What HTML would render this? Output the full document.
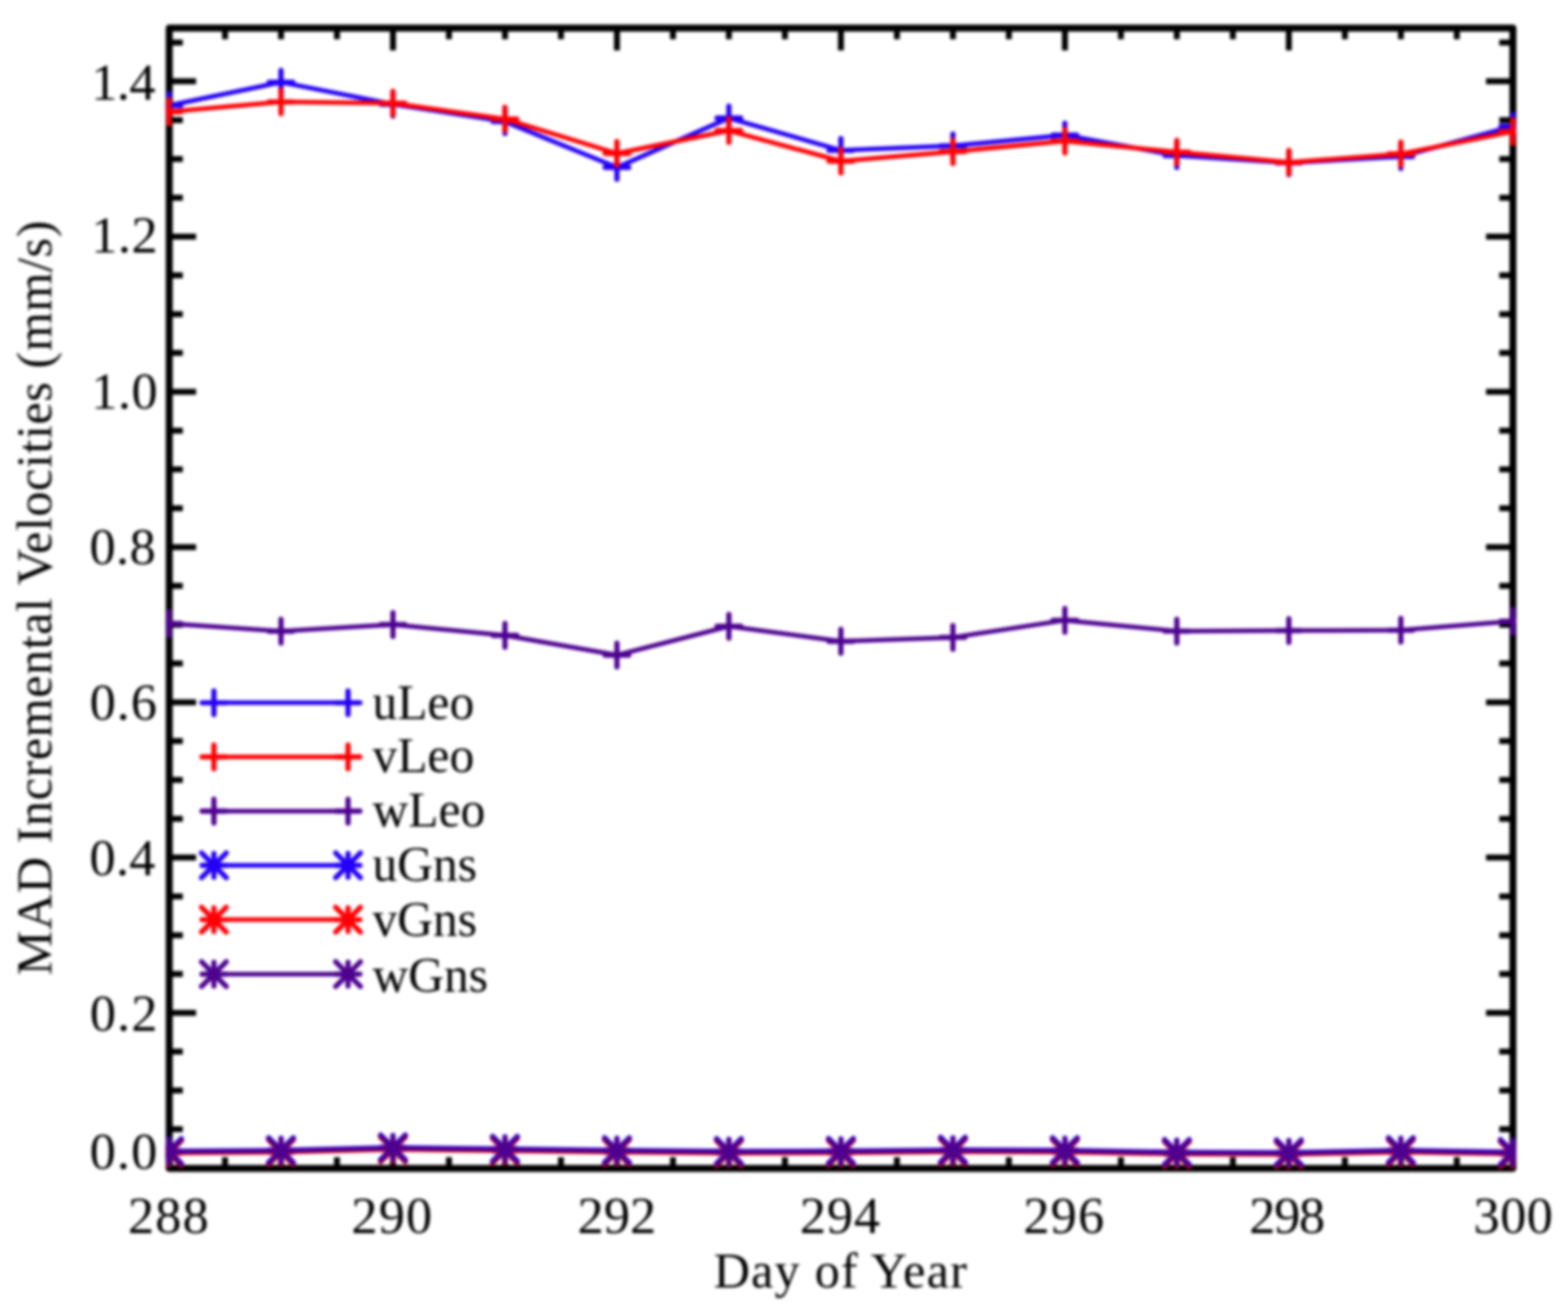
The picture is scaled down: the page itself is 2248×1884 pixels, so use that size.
<!DOCTYPE html>
<html lang="en">
<head>
<meta charset="utf-8">
<title>MAD Incremental Velocities</title>
<style>
html,body{margin:0;padding:0;background:#fff;}
body{width:2248px;height:1884px;overflow:hidden;}
svg{display:block;}
text{font-family:"Liberation Serif","DejaVu Serif",serif;fill:#000;}
.tk{font-size:75px;letter-spacing:1.6px;}
.lg{font-size:71px;}
.ti{font-size:72px;letter-spacing:1.7px;}
.ty{font-size:72px;letter-spacing:0.8px;}
</style>
</head>
<body>
<svg width="2248" height="1884" viewBox="0 0 2248 1884">
<defs>
<clipPath id="clip"><rect x="237.6" y="35.2" width="1936.4" height="1641"/></clipPath>
<filter id="soft" x="-2%" y="-2%" width="104%" height="104%" color-interpolation-filters="sRGB"><feGaussianBlur stdDeviation="2.2"/></filter>
</defs>
<rect x="0" y="0" width="2248" height="1884" fill="#ffffff"/>
<g filter="url(#soft)">
<rect x="242.6" y="40.2" width="1926.4" height="1635" fill="none" stroke="#000" stroke-width="10.0" stroke-linejoin="round"/>
<path d="M322.6 1675.2V1659.2M322.6 40.2V56.2M402.9 1675.2V1659.2M402.9 40.2V56.2M483.1 1675.2V1659.2M483.1 40.2V56.2M563.4 1675.2V1643.2M563.4 40.2V72.2M643.7 1675.2V1659.2M643.7 40.2V56.2M724 1675.2V1659.2M724 40.2V56.2M804.2 1675.2V1659.2M804.2 40.2V56.2M884.5 1675.2V1643.2M884.5 40.2V72.2M964.8 1675.2V1659.2M964.8 40.2V56.2M1045 1675.2V1659.2M1045 40.2V56.2M1125.3 1675.2V1659.2M1125.3 40.2V56.2M1205.6 1675.2V1643.2M1205.6 40.2V72.2M1285.9 1675.2V1659.2M1285.9 40.2V56.2M1366.2 1675.2V1659.2M1366.2 40.2V56.2M1446.4 1675.2V1659.2M1446.4 40.2V56.2M1526.7 1675.2V1643.2M1526.7 40.2V72.2M1607 1675.2V1659.2M1607 40.2V56.2M1687.2 1675.2V1659.2M1687.2 40.2V56.2M1767.5 1675.2V1659.2M1767.5 40.2V56.2M1847.8 1675.2V1643.2M1847.8 40.2V72.2M1928.1 1675.2V1659.2M1928.1 40.2V56.2M2008.4 1675.2V1659.2M2008.4 40.2V56.2M2088.6 1675.2V1659.2M2088.6 40.2V56.2M242.6 1619.1H262.1M2169 1619.1H2149.5M242.6 1563.5H262.1M2169 1563.5H2149.5M242.6 1507.8H262.1M2169 1507.8H2149.5M242.6 1452.2H281.1M2169 1452.2H2130.5M242.6 1396.5H262.1M2169 1396.5H2149.5M242.6 1340.9H262.1M2169 1340.9H2149.5M242.6 1285.2H262.1M2169 1285.2H2149.5M242.6 1229.6H281.1M2169 1229.6H2130.5M242.6 1173.9H262.1M2169 1173.9H2149.5M242.6 1118.3H262.1M2169 1118.3H2149.5M242.6 1062.6H262.1M2169 1062.6H2149.5M242.6 1007H281.1M2169 1007H2130.5M242.6 951.3H262.1M2169 951.3H2149.5M242.6 895.7H262.1M2169 895.7H2149.5M242.6 840H262.1M2169 840H2149.5M242.6 784.4H281.1M2169 784.4H2130.5M242.6 728.7H262.1M2169 728.7H2149.5M242.6 673.1H262.1M2169 673.1H2149.5M242.6 617.4H262.1M2169 617.4H2149.5M242.6 561.8H281.1M2169 561.8H2130.5M242.6 506.1H262.1M2169 506.1H2149.5M242.6 450.5H262.1M2169 450.5H2149.5M242.6 394.8H262.1M2169 394.8H2149.5M242.6 339.2H281.1M2169 339.2H2130.5M242.6 283.5H262.1M2169 283.5H2149.5M242.6 227.9H262.1M2169 227.9H2149.5M242.6 172.2H262.1M2169 172.2H2149.5M242.6 116.6H281.1M2169 116.6H2130.5M242.6 60.9H262.1M2169 60.9H2149.5" stroke="#000" stroke-width="8.5" fill="none"/>
<text class="tk" x="242.1" y="1767.8" text-anchor="middle" style="letter-spacing:1.60px">288</text>
<text class="tk" x="562.5" y="1767.8" text-anchor="middle" style="letter-spacing:1.60px">290</text>
<text class="tk" x="884.5" y="1767.8" text-anchor="middle" style="letter-spacing:0.10px">292</text>
<text class="tk" x="1204.9" y="1767.8" text-anchor="middle" style="letter-spacing:1.20px">294</text>
<text class="tk" x="1525.9" y="1767.8" text-anchor="middle" style="letter-spacing:1.60px">296</text>
<text class="tk" x="1844.5" y="1767.8" text-anchor="middle" style="letter-spacing:-1.85px">298</text>
<text class="tk" x="2169.7" y="1767.8" text-anchor="middle" style="letter-spacing:0.60px">300</text>
<text class="tk" x="227" y="1675.6" text-anchor="end" style="letter-spacing:1.60px">0.0</text>
<text class="tk" x="227.3" y="1477.7" text-anchor="end" style="letter-spacing:1.60px">0.2</text>
<text class="tk" x="223.3" y="1254.9" text-anchor="end" style="letter-spacing:0.45px">0.4</text>
<text class="tk" x="226.4" y="1031.8" text-anchor="end" style="letter-spacing:1.40px">0.6</text>
<text class="tk" x="223.9" y="808.5" text-anchor="end" style="letter-spacing:0.65px">0.8</text>
<text class="tk" x="226.8" y="585.8" text-anchor="end" style="letter-spacing:0.75px">1.0</text>
<text class="tk" x="226.6" y="362" text-anchor="end" style="letter-spacing:0.70px">1.2</text>
<text class="tk" x="222.1" y="143.3" text-anchor="end" style="letter-spacing:-0.80px">1.4</text>
<text class="ti" x="1205.5" y="1846" text-anchor="middle">Day of Year</text>
<text class="ty" transform="translate(73.5,857) rotate(-90)" text-anchor="middle">MAD Incremental Velocities (mm/s)</text>
<g clip-path="url(#clip)">
<g stroke="#2400f8" fill="none"><polyline points="242.3,151.3 402.9,117.9 563.4,149.5 724,174.4 884.5,240 1045,169.3 1205.6,215.6 1366.2,209.1 1526.7,193.7 1687.2,223 1847.8,233.6 2008.4,224.6 2168.9,181" stroke-width="6.5" stroke-linejoin="round"/><path d="M225.3 151.3H259.3M242.3 134.3V168.3M385.9 117.9H419.9M402.9 100.9V134.9M546.4 149.5H580.4M563.4 132.5V166.5M707 174.4H741M724 157.4V191.4M867.5 240H901.5M884.5 223V257M1028 169.3H1062M1045 152.3V186.3M1188.6 215.6H1222.6M1205.6 198.6V232.6M1349.2 209.1H1383.2M1366.2 192.1V226.1M1509.7 193.7H1543.7M1526.7 176.7V210.7M1670.2 223H1704.2M1687.2 206V240M1830.8 233.6H1864.8M1847.8 216.6V250.6M1991.4 224.6H2025.4M2008.4 207.6V241.6M2151.9 181H2185.9M2168.9 164V198" stroke-width="7.4" stroke-linecap="round"/></g>
<g stroke="#ff0004" fill="none"><polyline points="242.3,160.3 402.9,146.1 563.4,148 724,170.6 884.5,220 1045,187.3 1205.6,231 1366.2,217.4 1526.7,202.2 1687.2,218.1 1847.8,232.8 2008.4,220.7 2168.9,188.6" stroke-width="6.5" stroke-linejoin="round"/><path d="M225.3 160.3H259.3M242.3 143.3V177.3M385.9 146.1H419.9M402.9 129.1V163.1M546.4 148H580.4M563.4 131V165M707 170.6H741M724 153.6V187.6M867.5 220H901.5M884.5 203V237M1028 187.3H1062M1045 170.3V204.3M1188.6 231H1222.6M1205.6 214V248M1349.2 217.4H1383.2M1366.2 200.4V234.4M1509.7 202.2H1543.7M1526.7 185.2V219.2M1670.2 218.1H1704.2M1687.2 201.1V235.1M1830.8 232.8H1864.8M1847.8 215.8V249.8M1991.4 220.7H2025.4M2008.4 203.7V237.7M2151.9 188.6H2185.9M2168.9 171.6V205.6" stroke-width="7.4" stroke-linecap="round"/></g>
<g stroke="#4e0290" fill="none"><polyline points="242.3,894 402.9,905 563.4,895.5 724,911 884.5,939.3 1045,898 1205.6,919.5 1366.2,913.9 1526.7,889.4 1687.2,904.9 1847.8,904.1 2008.4,903.6 2168.9,890.7" stroke-width="6.5" stroke-linejoin="round"/><path d="M225.3 894H259.3M242.3 877V911M385.9 905H419.9M402.9 888V922M546.4 895.5H580.4M563.4 878.5V912.5M707 911H741M724 894V928M867.5 939.3H901.5M884.5 922.3V956.3M1028 898H1062M1045 881V915M1188.6 919.5H1222.6M1205.6 902.5V936.5M1349.2 913.9H1383.2M1366.2 896.9V930.9M1509.7 889.4H1543.7M1526.7 872.4V906.4M1670.2 904.9H1704.2M1687.2 887.9V921.9M1830.8 904.1H1864.8M1847.8 887.1V921.1M1991.4 903.6H2025.4M2008.4 886.6V920.6M2151.9 890.7H2185.9M2168.9 873.7V907.7" stroke-width="7.4" stroke-linecap="round"/></g>
<g stroke="#2400f8" fill="none"><polyline points="242.3,1650.3 402.9,1649 563.4,1645 724,1647 884.5,1649 1045,1650.4 1205.6,1650 1366.2,1648.4 1526.7,1649 1687.2,1651.7 1847.8,1652.2 2008.4,1649 2168.9,1651.7" stroke-width="6.5" stroke-linejoin="round"/><path d="M225.3 1650.3H259.3M242.3 1633.3V1667.3M224.6 1632.6L260 1668M224.6 1668L260 1632.6M385.9 1649H419.9M402.9 1632V1666M385.2 1631.3L420.5 1666.7M385.2 1666.7L420.5 1631.3M546.4 1645H580.4M563.4 1628V1662M545.7 1627.3L581.1 1662.7M545.7 1662.7L581.1 1627.3M707 1647H741M724 1630V1664M706.3 1629.3L741.6 1664.7M706.3 1664.7L741.6 1629.3M867.5 1649H901.5M884.5 1632V1666M866.8 1631.3L902.2 1666.7M866.8 1666.7L902.2 1631.3M1028 1650.4H1062M1045 1633.4V1667.4M1027.4 1632.7L1062.7 1668.1M1027.4 1668.1L1062.7 1632.7M1188.6 1650H1222.6M1205.6 1633V1667M1187.9 1632.3L1223.3 1667.7M1187.9 1667.7L1223.3 1632.3M1349.2 1648.4H1383.2M1366.2 1631.4V1665.4M1348.5 1630.7L1383.8 1666.1M1348.5 1666.1L1383.8 1630.7M1509.7 1649H1543.7M1526.7 1632V1666M1509 1631.3L1544.4 1666.7M1509 1666.7L1544.4 1631.3M1670.2 1651.7H1704.2M1687.2 1634.7V1668.7M1669.6 1634L1704.9 1669.4M1669.6 1669.4L1704.9 1634M1830.8 1652.2H1864.8M1847.8 1635.2V1669.2M1830.1 1634.5L1865.5 1669.9M1830.1 1669.9L1865.5 1634.5M1991.4 1649H2025.4M2008.4 1632V1666M1990.7 1631.3L2026 1666.7M1990.7 1666.7L2026 1631.3M2151.9 1651.7H2185.9M2168.9 1634.7V1668.7M2151.2 1634L2186.6 1669.4M2151.2 1669.4L2186.6 1634" stroke-width="7.4" stroke-linecap="round"/></g>
<g stroke="#ff0004" fill="none"><polyline points="242.3,1653.3 402.9,1652 563.4,1648 724,1650 884.5,1652 1045,1653.4 1205.6,1653 1366.2,1651.4 1526.7,1652 1687.2,1654.7 1847.8,1655.2 2008.4,1652 2168.9,1654.7" stroke-width="6.5" stroke-linejoin="round"/><path d="M225.3 1653.3H259.3M242.3 1636.3V1670.3M224.6 1635.6L260 1671M224.6 1671L260 1635.6M385.9 1652H419.9M402.9 1635V1669M385.2 1634.3L420.5 1669.7M385.2 1669.7L420.5 1634.3M546.4 1648H580.4M563.4 1631V1665M545.7 1630.3L581.1 1665.7M545.7 1665.7L581.1 1630.3M707 1650H741M724 1633V1667M706.3 1632.3L741.6 1667.7M706.3 1667.7L741.6 1632.3M867.5 1652H901.5M884.5 1635V1669M866.8 1634.3L902.2 1669.7M866.8 1669.7L902.2 1634.3M1028 1653.4H1062M1045 1636.4V1670.4M1027.4 1635.7L1062.7 1671.1M1027.4 1671.1L1062.7 1635.7M1188.6 1653H1222.6M1205.6 1636V1670M1187.9 1635.3L1223.3 1670.7M1187.9 1670.7L1223.3 1635.3M1349.2 1651.4H1383.2M1366.2 1634.4V1668.4M1348.5 1633.7L1383.8 1669.1M1348.5 1669.1L1383.8 1633.7M1509.7 1652H1543.7M1526.7 1635V1669M1509 1634.3L1544.4 1669.7M1509 1669.7L1544.4 1634.3M1670.2 1654.7H1704.2M1687.2 1637.7V1671.7M1669.6 1637L1704.9 1672.4M1669.6 1672.4L1704.9 1637M1830.8 1655.2H1864.8M1847.8 1638.2V1672.2M1830.1 1637.5L1865.5 1672.9M1830.1 1672.9L1865.5 1637.5M1991.4 1652H2025.4M2008.4 1635V1669M1990.7 1634.3L2026 1669.7M1990.7 1669.7L2026 1634.3M2151.9 1654.7H2185.9M2168.9 1637.7V1671.7M2151.2 1637L2186.6 1672.4M2151.2 1672.4L2186.6 1637" stroke-width="7.4" stroke-linecap="round"/></g>
<g stroke="#4e0290" fill="none"><polyline points="242.3,1651.6 402.9,1650.3 563.4,1646.3 724,1648.3 884.5,1650.3 1045,1651.7 1205.6,1651.3 1366.2,1649.7 1526.7,1650.3 1687.2,1653 1847.8,1653.5 2008.4,1650.3 2168.9,1653" stroke-width="6.5" stroke-linejoin="round"/><path d="M225.3 1651.6H259.3M242.3 1634.6V1668.6M224.6 1633.9L260 1669.3M224.6 1669.3L260 1633.9M385.9 1650.3H419.9M402.9 1633.3V1667.3M385.2 1632.6L420.5 1668M385.2 1668L420.5 1632.6M546.4 1646.3H580.4M563.4 1629.3V1663.3M545.7 1628.6L581.1 1664M545.7 1664L581.1 1628.6M707 1648.3H741M724 1631.3V1665.3M706.3 1630.6L741.6 1666M706.3 1666L741.6 1630.6M867.5 1650.3H901.5M884.5 1633.3V1667.3M866.8 1632.6L902.2 1668M866.8 1668L902.2 1632.6M1028 1651.7H1062M1045 1634.7V1668.7M1027.4 1634L1062.7 1669.4M1027.4 1669.4L1062.7 1634M1188.6 1651.3H1222.6M1205.6 1634.3V1668.3M1187.9 1633.6L1223.3 1669M1187.9 1669L1223.3 1633.6M1349.2 1649.7H1383.2M1366.2 1632.7V1666.7M1348.5 1632L1383.8 1667.4M1348.5 1667.4L1383.8 1632M1509.7 1650.3H1543.7M1526.7 1633.3V1667.3M1509 1632.6L1544.4 1668M1509 1668L1544.4 1632.6M1670.2 1653H1704.2M1687.2 1636V1670M1669.6 1635.3L1704.9 1670.7M1669.6 1670.7L1704.9 1635.3M1830.8 1653.5H1864.8M1847.8 1636.5V1670.5M1830.1 1635.8L1865.5 1671.2M1830.1 1671.2L1865.5 1635.8M1991.4 1650.3H2025.4M2008.4 1633.3V1667.3M1990.7 1632.6L2026 1668M1990.7 1668L2026 1632.6M2151.9 1653H2185.9M2168.9 1636V1670M2151.2 1635.3L2186.6 1670.7M2151.2 1670.7L2186.6 1635.3" stroke-width="7.4" stroke-linecap="round"/></g>
</g>
<g stroke="#2400f8" fill="none"><path d="M306.7 1007.6H499" stroke-width="6.5"/><path d="M289.7 1007.6H323.7M306.7 990.6V1024.6M482 1007.6H516M499 990.6V1024.6" stroke-width="7.4" stroke-linecap="round"/></g>
<text class="lg" x="534" y="1031.3">uLeo</text>
<g stroke="#ff0004" fill="none"><path d="M306.7 1085.2H499" stroke-width="6.5"/><path d="M289.7 1085.2H323.7M306.7 1068.2V1102.2M482 1085.2H516M499 1068.2V1102.2" stroke-width="7.4" stroke-linecap="round"/></g>
<text class="lg" x="534" y="1106.7">vLeo</text>
<g stroke="#4e0290" fill="none"><path d="M306.7 1163H499" stroke-width="6.5"/><path d="M289.7 1163H323.7M306.7 1146V1180M482 1163H516M499 1146V1180" stroke-width="7.4" stroke-linecap="round"/></g>
<text class="lg" x="534" y="1184.7">wLeo</text>
<g stroke="#2400f8" fill="none"><path d="M306.7 1240.7H499" stroke-width="6.5"/><path d="M289.7 1240.7H323.7M306.7 1223.7V1257.7M289 1223L324.4 1258.4M289 1258.4L324.4 1223M482 1240.7H516M499 1223.7V1257.7M481.3 1223L516.7 1258.4M481.3 1258.4L516.7 1223" stroke-width="7.4" stroke-linecap="round"/></g>
<text class="lg" x="534" y="1263">uGns</text>
<g stroke="#ff0004" fill="none"><path d="M306.7 1318.6H499" stroke-width="6.5"/><path d="M289.7 1318.6H323.7M306.7 1301.6V1335.6M289 1300.9L324.4 1336.3M289 1336.3L324.4 1300.9M482 1318.6H516M499 1301.6V1335.6M481.3 1300.9L516.7 1336.3M481.3 1336.3L516.7 1300.9" stroke-width="7.4" stroke-linecap="round"/></g>
<text class="lg" x="534" y="1341.9">vGns</text>
<g stroke="#4e0290" fill="none"><path d="M306.7 1396.7H499" stroke-width="6.5"/><path d="M289.7 1396.7H323.7M306.7 1379.7V1413.7M289 1379L324.4 1414.4M289 1414.4L324.4 1379M482 1396.7H516M499 1379.7V1413.7M481.3 1379L516.7 1414.4M481.3 1414.4L516.7 1379" stroke-width="7.4" stroke-linecap="round"/></g>
<text class="lg" x="534" y="1421.7">wGns</text>
</g>
</svg>
</body>
</html>
